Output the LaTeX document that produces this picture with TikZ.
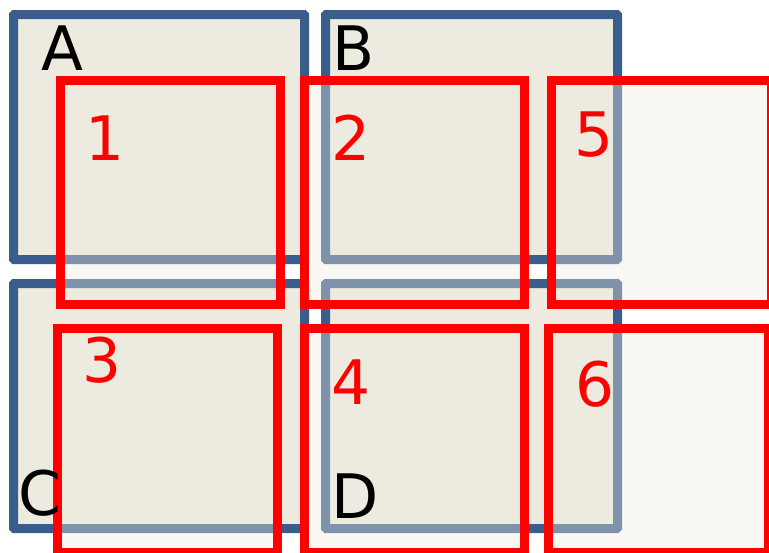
\documentclass[tikz,border=0pt]{standalone}
\usepackage{fontspec}
\setmainfont{DejaVu Sans}
\definecolor{frameblue}{HTML}{3A5E8B}
\definecolor{panelfill}{HTML}{EDEAE0}
\tikzset{
  panel/.style={draw=frameblue, fill=panelfill, line width=6.75pt, rounded corners=0.6pt},
  region/.style={draw=red, line width=6.75pt, fill=panelfill, fill opacity=0.38},
  letter/.style={anchor=base, inner sep=0pt, font=\fontsize{46}{50}\selectfont},
  digit/.style={letter, text=red},
}
\begin{document}
\begin{tikzpicture}[x=0.75pt, y=-0.75pt]
  \useasboundingbox (0,0) rectangle (769,553);
  \clip (0,0) rectangle (769,553);
  \draw[panel] (13.5,14.5) rectangle (304.5,259.5);
  \draw[panel] (325.5,14.5) rectangle (617.5,259.5);
  \draw[panel] (13.5,283.5) rectangle (304.5,528.5);
  \draw[panel] (325.5,283.5) rectangle (617.5,528.5);
  \draw[region] (60.5,80.5) rectangle (280.5,304.5);
  \draw[region] (304.5,80.5) rectangle (524.5,304.5);
  \draw[region] (551.5,80.5) rectangle (771.5,304.5);
  \draw[region] (57.5,328.5) rectangle (277.5,552.5);
  \draw[region] (304.5,328.5) rectangle (524.5,552.5);
  \draw[region] (548.5,328.5) rectangle (768.5,552.5);
  \node[letter] (labA) at (62,70) {A};
  \node[letter] (labB) at (354,70) {B};
  \node[letter] (labC) at (40,515) {C};
  \node[letter] (labD) at (355.5,518) {D};
  \node[digit] (num1) at (105.5,160) {1};
  \node[digit] (num2) at (351,160) {2};
  \node[digit] (num5) at (594,156) {5};
  \node[digit] (num3) at (102.5,382) {3};
  \node[digit] (num4) at (351,404) {4};
  \node[digit] (num6) at (595,406) {6};
\end{tikzpicture}
\end{document}
